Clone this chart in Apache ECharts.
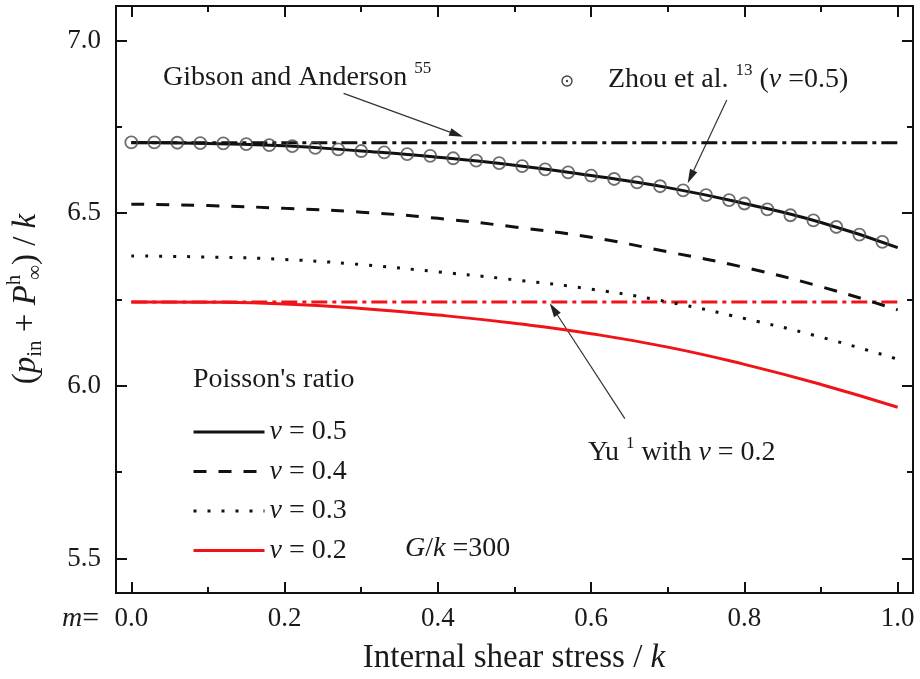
<!DOCTYPE html>
<html>
<head>
<meta charset="utf-8">
<script src="https://cdn.jsdelivr.net/npm/echarts@6/dist/echarts.min.js"></script>
<style>
  body { margin: 0; background: #fff; }
  #chart { width: 920px; height: 679px; }
</style>
</head>
<body>
<div id="chart"></div>
<script>
// curves, x = internal shear stress / k
var xCurve = [0, 0.1, 0.2, 0.3, 0.4, 0.5, 0.6, 0.7, 0.8, 0.9, 1.0];
var nu05 = [6.705, 6.702, 6.695, 6.680, 6.662, 6.639, 6.609, 6.574, 6.528, 6.473, 6.400];
var nu04 = [6.526, 6.522, 6.514, 6.503, 6.485, 6.460, 6.430, 6.388, 6.343, 6.287, 6.220];
var nu03 = [6.376, 6.373, 6.366, 6.351, 6.330, 6.307, 6.280, 6.243, 6.195, 6.141, 6.077];
var nu02 = [6.243, 6.242, 6.237, 6.224, 6.205, 6.181, 6.151, 6.112, 6.062, 6.004, 5.938];

// constant solutions (Gibson and Anderson, Yu)
var xFlat = [0, 1.0];
var gibson = [6.704, 6.704];
var yu = [6.243, 6.243];

// Zhou et al. circles
var zhouX = [0, 0.03, 0.06, 0.09, 0.12, 0.15, 0.18, 0.21, 0.24, 0.27, 0.30, 0.33, 0.36, 0.39, 0.42, 0.45, 0.48,
             0.51, 0.54, 0.57, 0.60, 0.63, 0.66, 0.69, 0.72, 0.75, 0.78, 0.80, 0.83, 0.86, 0.89, 0.92, 0.95, 0.98];
var zhouY = [6.705, 6.705, 6.704, 6.703, 6.702, 6.700, 6.697, 6.694, 6.689, 6.685, 6.680, 6.676, 6.671, 6.666, 6.659, 6.652, 6.645,
             6.636, 6.627, 6.618, 6.609, 6.599, 6.589, 6.578, 6.566, 6.552, 6.538, 6.528, 6.511, 6.494, 6.479, 6.460, 6.438, 6.417];

var xMajor = [0, 0.2, 0.4, 0.6, 0.8, 1.0];
var xMinor = [0.1, 0.3, 0.5, 0.7, 0.9];
var yMajor = [5.5, 6.0, 6.5, 7.0];
var yMinor = [5.75, 6.25, 6.75];

var FAM = '"Liberation Serif", "Times New Roman", serif';
var INK = '#1a1a1a';

function f(size, italic) {
    return (italic ? 'italic ' : '') + size + 'px ' + FAM;
}

function pairs(xs, ys) {
    return xs.map(function (x, i) { return [x, ys[i]]; });
}

function xAx(pos, vals, len, labels) {
    return {
        type: 'value', min: -0.02, max: 1.02, position: pos, offset: 0,
        axisLine: { show: true, onZero: false, lineStyle: { color: '#111', width: 2 } },
        axisTick: { show: true, inside: true, length: len, customValues: vals, lineStyle: { color: '#111', width: 2 } },
        axisLabel: {
            show: labels, customValues: vals, margin: 12,
            fontFamily: FAM, fontSize: 27, color: INK,
            formatter: function (v) { return v.toFixed(1); }
        },
        splitLine: { show: false }
    };
}

function yAx(pos, vals, len, labels) {
    return {
        type: 'value', min: 5.4, max: 7.1, position: pos, offset: 0,
        axisLine: { show: true, onZero: false, lineStyle: { color: '#111', width: 2 } },
        axisTick: { show: true, inside: true, length: len, customValues: vals, lineStyle: { color: '#111', width: 2 } },
        axisLabel: {
            show: labels, customValues: vals, margin: 15,
            fontFamily: FAM, fontSize: 27, color: INK,
            formatter: function (v) { return v.toFixed(1); }
        },
        splitLine: { show: false }
    };
}

var dom = document.getElementById('chart');
var chart = echarts.init(dom, null, { width: 920, height: 679 });

var option = {
    animation: false,
    backgroundColor: '#fff',
    grid: { left: 116, right: 7, top: 6, bottom: 86 },
    xAxis: [
        xAx('bottom', xMajor, 11, true),
        xAx('bottom', xMinor, 6, false),
        xAx('top', xMajor, 11, false),
        xAx('top', xMinor, 6, false)
    ],
    yAxis: [
        yAx('left', yMajor, 11, true),
        yAx('left', yMinor, 6, false),
        yAx('right', yMajor, 11, false),
        yAx('right', yMinor, 6, false)
    ],
    legend: {
        data: ['ν = 0.5', 'ν = 0.4', 'ν = 0.3', 'ν = 0.2'],
        orient: 'vertical',
        left: 192, top: 417, padding: 0,
        itemWidth: 71, itemHeight: 14, itemGap: 9.5,
        selectedMode: false,
        itemStyle: { opacity: 0, borderWidth: 0 },
        lineStyle: { width: 3 },
        textStyle: {
            fontFamily: FAM, fontSize: 28, color: INK, lineHeight: 30,
            rich: { i: { fontFamily: FAM, fontSize: 28, fontStyle: 'italic', color: INK, lineHeight: 30 } }
        },
        formatter: function (name) { return '{i|ν} = ' + name.split('= ')[1]; }
    },
    series: [
        {
            name: 'Gibson and Anderson', type: 'line', data: pairs(xFlat, gibson),
            symbol: 'none', silent: true,
            lineStyle: { color: '#111', width: 3, type: [16, 5, 4, 5] }
        },
        {
            name: 'Yu', type: 'line', data: pairs(xFlat, yu),
            symbol: 'none', silent: true,
            lineStyle: { color: '#f0141a', width: 3, type: [16, 5, 4, 5] }
        },
        {
            name: 'ν = 0.5', type: 'line', data: pairs(xCurve, nu05),
            symbol: 'none', smooth: 0.5,
            itemStyle: { color: '#111' },
            lineStyle: { color: '#111', width: 3, type: 'solid' }
        },
        {
            name: 'ν = 0.4', type: 'line', data: pairs(xCurve, nu04),
            symbol: 'none', smooth: 0.5,
            itemStyle: { color: '#111' },
            lineStyle: { color: '#111', width: 3, type: [13, 12] }
        },
        {
            name: 'ν = 0.3', type: 'line', data: pairs(xCurve, nu03),
            symbol: 'none', smooth: 0.5,
            itemStyle: { color: '#111' },
            lineStyle: { color: '#111', width: 3, type: [3, 11] }
        },
        {
            name: 'ν = 0.2', type: 'line', data: pairs(xCurve, nu02),
            symbol: 'none', smooth: 0.5,
            itemStyle: { color: '#f0141a' },
            lineStyle: { color: '#f0141a', width: 3, type: 'solid' }
        },
        {
            name: 'Zhou et al.', type: 'scatter', data: pairs(zhouX, zhouY),
            symbol: 'circle', symbolSize: 12, z: 5,
            itemStyle: { color: 'transparent', borderColor: '#4a4a4a', borderWidth: 1.8 }
        }
    ]
};

chart.setOption(option);

// annotation arrows, given in data coordinates [tail, tip]
var arrows = [
    [[0.277, 6.847], [0.433, 6.721]],
    [[0.777, 6.828], [0.726, 6.587]],
    [[0.644, 5.905], [0.546, 6.239]]
];

function arrowEls(from, to) {
    var a = chart.convertToPixel({ seriesIndex: 0 }, from);
    var b = chart.convertToPixel({ seriesIndex: 0 }, to);
    var dx = b[0] - a[0], dy = b[1] - a[1];
    var len = Math.sqrt(dx * dx + dy * dy);
    var ux = dx / len, uy = dy / len;
    var hl = 14, hw = 4;
    var bx = b[0] - ux * hl, by = b[1] - uy * hl;
    return [
        { type: 'line', shape: { x1: a[0], y1: a[1], x2: bx, y2: by }, style: { stroke: '#333', lineWidth: 1.2 } },
        { type: 'polygon', shape: { points: [[b[0], b[1]], [bx - uy * hw, by + ux * hw], [bx + uy * hw, by - ux * hw]] },
          style: { fill: '#222' } }
    ];
}

var supStyle = { font: f(17), fill: INK, padding: [0, 0, 18, 0] };

var graphics = [];
arrows.forEach(function (ar) { graphics = graphics.concat(arrowEls(ar[0], ar[1])); });

graphics.push(
    {
        type: 'text', x: 26, y: 299, rotation: Math.PI / 2,
        style: {
            text: '{n|(}{i|p}{sub|in}{n| + }{i|P}{hs|h}{sub|∞}{n|) / }{i|k}',
            align: 'center', verticalAlign: 'middle', font: f(33), fill: INK,
            rich: {
                n: { font: f(33), fill: INK },
                i: { font: f(33, true), fill: INK },
                sub: { font: f(21), fill: INK, padding: [18, 0, 0, 0] },
                hs: { font: f(21), fill: INK, width: 0.1, align: 'left', padding: [0, 0, 24, 5] }
            }
        }
    },
    {
        type: 'text', x: 514, y: 658,
        style: {
            text: '{n|Internal shear stress / }{i|k}',
            align: 'center', verticalAlign: 'middle', font: f(33), fill: INK,
            rich: { n: { font: f(33), fill: INK }, i: { font: f(33, true), fill: INK } }
        }
    },
    {
        type: 'text', x: 62, y: 619,
        style: {
            text: '{i|m}{n|=}', align: 'left', verticalAlign: 'middle', font: f(28), fill: INK,
            rich: { n: { font: f(30), fill: INK }, i: { font: f(28, true), fill: INK } }
        }
    },
    {
        type: 'text', x: 193, y: 380,
        style: { text: "Poisson's ratio", align: 'left', verticalAlign: 'middle', font: f(28), fill: INK }
    },
    {
        type: 'text', x: 405, y: 549,
        style: {
            text: '{i|G}{n|/}{i|k}{n| =300}', align: 'left', verticalAlign: 'middle', font: f(28), fill: INK,
            rich: { n: { font: f(28), fill: INK }, i: { font: f(28, true), fill: INK } }
        }
    },
    {
        type: 'text', x: 163, y: 78,
        style: {
            text: '{n|Gibson and Anderson }{sup|55}', align: 'left', verticalAlign: 'middle', font: f(28), fill: INK,
            rich: { n: { font: f(28), fill: INK }, sup: supStyle }
        }
    },
    {
        type: 'circle', shape: { cx: 567, cy: 81, r: 5 },
        style: { fill: 'none', stroke: '#444', lineWidth: 1.4 }
    },
    {
        type: 'circle', shape: { cx: 567, cy: 81, r: 1.2 },
        style: { fill: '#444' }
    },
    {
        type: 'text', x: 608, y: 80,
        style: {
            text: '{n|Zhou et al. }{sup|13}{n| (}{i|ν}{n| =0.5)}', align: 'left', verticalAlign: 'middle', font: f(28), fill: INK,
            rich: { n: { font: f(28), fill: INK }, i: { font: f(28, true), fill: INK }, sup: supStyle }
        }
    },
    {
        type: 'text', x: 588, y: 453,
        style: {
            text: '{n|Yu }{sup|1}{n| with }{i|ν}{n| = 0.2}', align: 'left', verticalAlign: 'middle', font: f(28), fill: INK,
            rich: { n: { font: f(28), fill: INK }, i: { font: f(28, true), fill: INK }, sup: supStyle }
        }
    }
);

chart.setOption({ graphic: graphics });
</script>
</body>
</html>
